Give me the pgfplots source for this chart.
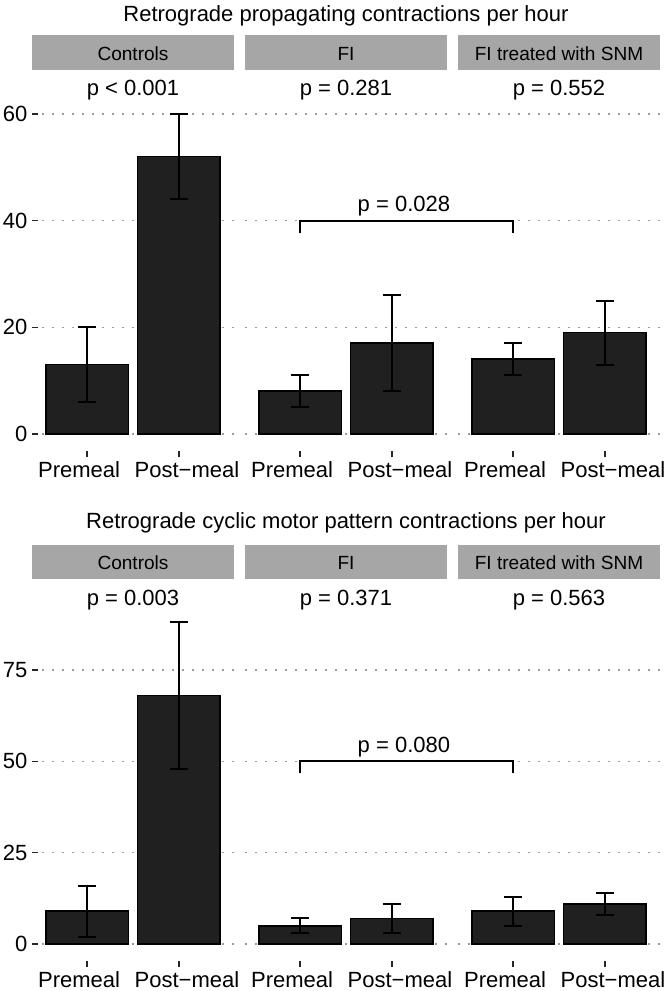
\documentclass[border=0pt]{standalone}
\usepackage{fontspec}
\setmainfont{Liberation Sans}
\usepackage{pgfplots}
\pgfplotsset{compat=1.18}
\usetikzlibrary{calc}
\definecolor{barfill}{HTML}{202020}
\definecolor{stripfill}{HTML}{A6A6A6}
\definecolor{gridc}{HTML}{9C9C9C}
\newcommand{\lab}{\fontsize{16.5}{19.8}\selectfont}
\newcommand{\strip}{\fontsize{14.3}{17}\selectfont}
\pgfplotsset{
  facet/.style={
    scale only axis, width=151.5pt, anchor=north west,
    xmin=0.4, xmax=2.6, xtick={1,2},
    xticklabels={{Premeal\kern12pt},{\kern12pt Post−meal}},
    axis line style={draw=none},
    tick align=inside, major tick length=4.5pt,
    xtick pos=bottom, ytick pos=left,
    tick style={black!85, line width=1.1pt},
    ymajorgrids,
    major grid style={gridc, line width=1.1pt, dash pattern=on 1.3pt off 6.2pt},
    ticklabel style={font=\lab},
    xticklabel style={anchor=base, yshift=-15pt},
    /pgf/number format/assume math mode=true,
    clip=false,
    ybar, bar width=0.9,
  },
  noy/.style={yticklabels={}, ytick style={draw=none}},
  toprow/.style={height=286pt, ymin=-3.25, ymax=68.25, ytick={0,20,40,60}},
  botrow/.style={height=286.8pt, ymin=-4.76, ymax=99.9, ytick={0,25,50,75}},
  bars/.style={fill=barfill, draw=black, line width=1.25pt,
    error bars/.cd, y dir=both, y explicit,
    error bar style={line width=1.5pt, black},
    error mark options={rotate=90, mark size=6.75pt, line width=1.5pt, black}},
}
\begin{document}
\begin{tikzpicture}
\useasboundingbox (0,0) rectangle (499.5pt,-743.25pt);

% ---------------- Top panel ----------------
\begin{axis}[facet, toprow, at={(24pt,-52.5pt)}]
\addplot[bars] table[x=x, y=y, y error plus=ep, y error minus=em]{
x y ep em
1 13 7 7
2 52 8 8
};
\node[anchor=base, font=\lab, yshift=-19.5pt] at (rel axis cs:0.5,1) {p < 0.001};
\end{axis}
\begin{axis}[facet, toprow, noy, at={(183.75pt,-52.5pt)}]
\addplot[bars] table[x=x, y=y, y error plus=ep, y error minus=em]{
x y ep em
1 8 3 3
2 17 9 9
};
\node[anchor=base, font=\lab, yshift=-19.5pt] at (rel axis cs:0.5,1) {p = 0.281};
\coordinate (a1) at (axis cs:1,40);
\end{axis}
\begin{axis}[facet, toprow, noy, at={(343.5pt,-52.5pt)}]
\addplot[bars] table[x=x, y=y, y error plus=ep, y error minus=em]{
x y ep em
1 14 3 3
2 19 6 6
};
\node[anchor=base, font=\lab, yshift=-19.5pt] at (rel axis cs:0.5,1) {p = 0.552};
\coordinate (a3) at (axis cs:1,40);
\end{axis}
\draw[line width=1.5pt, black] ([yshift=-9pt]a1) -- (a1) -- (a3) -- ([yshift=-9pt]a3);
\node[anchor=base, font=\lab] at ($(a1)!0.5!(a3)+(-2pt,6.75pt)$) {p = 0.028};

% strips and title (top)
\foreach \xs/\txt in {24/Controls, 183.75/FI, 343.5/FI treated with SNM}{
  \fill[stripfill] (\xs pt,-26.25pt) rectangle ++(151.5pt,-26.25pt);
  \node[anchor=base, font=\strip] at (\xs pt+75.75pt,-45.4pt) {\txt};
}
\node[anchor=base, font=\lab] at (259.5pt,-16.5pt) {Retrograde propagating contractions per hour};

% ---------------- Bottom panel ----------------
\begin{axis}[facet, botrow, at={(24pt,-434.25pt)}]
\addplot[bars] table[x=x, y=y, y error plus=ep, y error minus=em]{
x y ep em
1 9 7 7
2 68 20 20
};
\node[anchor=base, font=\lab, yshift=-19.5pt] at (rel axis cs:0.5,1) {p = 0.003};
\end{axis}
\begin{axis}[facet, botrow, noy, at={(183.75pt,-434.25pt)}]
\addplot[bars] table[x=x, y=y, y error plus=ep, y error minus=em]{
x y ep em
1 5 2 2
2 7 4 4
};
\node[anchor=base, font=\lab, yshift=-19.5pt] at (rel axis cs:0.5,1) {p = 0.371};
\coordinate (b1) at (axis cs:1,50);
\end{axis}
\begin{axis}[facet, botrow, noy, at={(343.5pt,-434.25pt)}]
\addplot[bars] table[x=x, y=y, y error plus=ep, y error minus=em]{
x y ep em
1 9 4 4
2 11 3 3
};
\node[anchor=base, font=\lab, yshift=-19.5pt] at (rel axis cs:0.5,1) {p = 0.563};
\coordinate (b3) at (axis cs:1,50);
\end{axis}
\draw[line width=1.5pt, black] ([yshift=-9pt]b1) -- (b1) -- (b3) -- ([yshift=-9pt]b3);
\node[anchor=base, font=\lab] at ($(b1)!0.5!(b3)+(-2pt,6.75pt)$) {p = 0.080};

\foreach \xs/\txt in {24/Controls, 183.75/FI, 343.5/FI treated with SNM}{
  \fill[stripfill] (\xs pt,-408.75pt) rectangle ++(151.5pt,-25.5pt);
  \node[anchor=base, font=\strip] at (\xs pt+75.75pt,-427.1pt) {\txt};
}
\node[anchor=base, font=\lab] at (259.5pt,-396pt) {Retrograde cyclic motor pattern contractions per hour};
\end{tikzpicture}
\end{document}
